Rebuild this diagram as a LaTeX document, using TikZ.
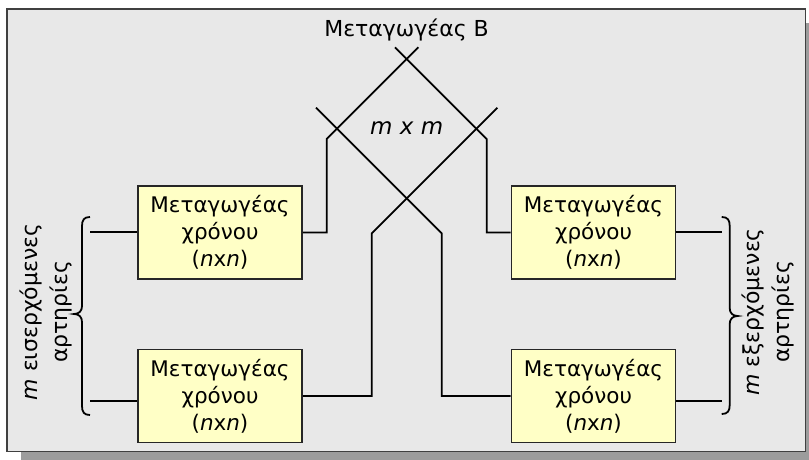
\documentclass[tikz,border=0pt]{standalone}
\usepackage{fontspec}
\setmainfont{DejaVu Sans}
\definecolor{boxfill}{HTML}{FFFFC6}
\definecolor{panel}{HTML}{E8E8E8}
\definecolor{panelshadow}{HTML}{9C9C9C}
\definecolor{frameline}{HTML}{404040}
\begin{document}
\begin{tikzpicture}[x=1pt,y=-1pt,
  wire/.style={line width=1.8pt,black},
  tsw/.style={draw=black!85,line width=1.6pt,fill=boxfill,
    minimum width=164pt,minimum height=93pt,inner sep=0pt,align=center,
    font=\fontsize{21.5}{27}\selectfont},
  lbl/.style={inner sep=0pt,align=center,font=\fontsize{22}{29.5}\selectfont}]
\useasboundingbox (0,0) rectangle (809,460);

% panel with drop shadow
\fill[panelshadow] (21,23) rectangle (809,460);
\draw[fill=panel,draw=frameline,line width=1.3pt] (7,9) rectangle (805.7,451.7);

% time switches
\node[tsw] (b1) at (220,232.5) {Μεταγωγέας\\χρόνου\\(\textit{n}x\textit{n})};
\node[tsw] (b2) at (220,396)   {Μεταγωγέας\\χρόνου\\(\textit{n}x\textit{n})};
\node[tsw] (b3) at (593.5,232.5) {Μεταγωγέας\\χρόνου\\(\textit{n}x\textit{n})};
\node[tsw] (b4) at (593.5,396)   {Μεταγωγέας\\χρόνου\\(\textit{n}x\textit{n})};

% space switch B
\node[lbl] (sw) at (406.5,30) {Μεταγωγέας B};
\node[lbl,font=\fontsize{23}{26}\selectfont\itshape] (mm) at (406.7,128) {m x m};

\coordinate (t) at (406.7,59);
\coordinate (l) at (336.7,128.4);
\coordinate (r) at (476.7,128.4);
\coordinate (m) at (406.7,198.4);
\coordinate (sa) at (395,47.3);
\coordinate (sb) at (418.4,47.3);
\coordinate (sc) at (316,107.7);
\coordinate (sd) at (497.4,107.7);
\coordinate (k1) at (326.7,139);
\coordinate (k2) at (486.7,139);
\coordinate (k3) at (441.7,233.4);
\coordinate (k4) at (371.7,233.4);

\draw[wire] (b1.east) -- (b1.east -| k1) -- (k1) -- (t) -- (sb);
\draw[wire] (sa) -- (t) -- (k2) -- (k2 |- b3.west) -- (b3.west);
\draw[wire] (sc) -- (l) -- (m) -- (k3) -- (k3 |- b4.west) -- (b4.west);
\draw[wire] (sd) -- (r) -- (m) -- (k4) -- (k4 |- b2.east) -- (b2.east);

% incoming trunks
\coordinate (i1) at (90,232.3);
\coordinate (i2) at (90,400.7);
\draw[wire] (i1) -- (i1 -| b1.west);
\draw[wire] (i2) -- (i2 -| b2.west);
\draw[wire] (90,217) .. controls (84,217) and (82,220) .. (82,226) -- (82,306)
  .. controls (82,311) and (79,314) .. (74,314)
  .. controls (79,314) and (82,317) .. (82,322) -- (82,406)
  .. controls (82,412) and (84,415) .. (90,415);
\node[lbl,rotate=90] (inl) at (46,312) {\textit{m} εισερχόμενες\\αρτηρίες};

% outgoing trunks
\coordinate (o1) at (721.7,232.3);
\coordinate (o2) at (721.7,400.7);
\draw[wire] (b3.east |- o1) -- (o1);
\draw[wire] (b4.east |- o2) -- (o2);
\draw[wire] (721.7,217) .. controls (727.7,217) and (729.7,220) .. (729.7,226) -- (729.7,308)
  .. controls (729.7,313) and (732.7,316) .. (737.7,316)
  .. controls (732.7,316) and (729.7,319) .. (729.7,324) -- (729.7,405)
  .. controls (729.7,411) and (727.7,414) .. (721.7,414);
\node[lbl,rotate=90] (outl) at (768,312) {\textit{m} εξερχόμενες\\αρτηρίες};
\end{tikzpicture}
\end{document}
